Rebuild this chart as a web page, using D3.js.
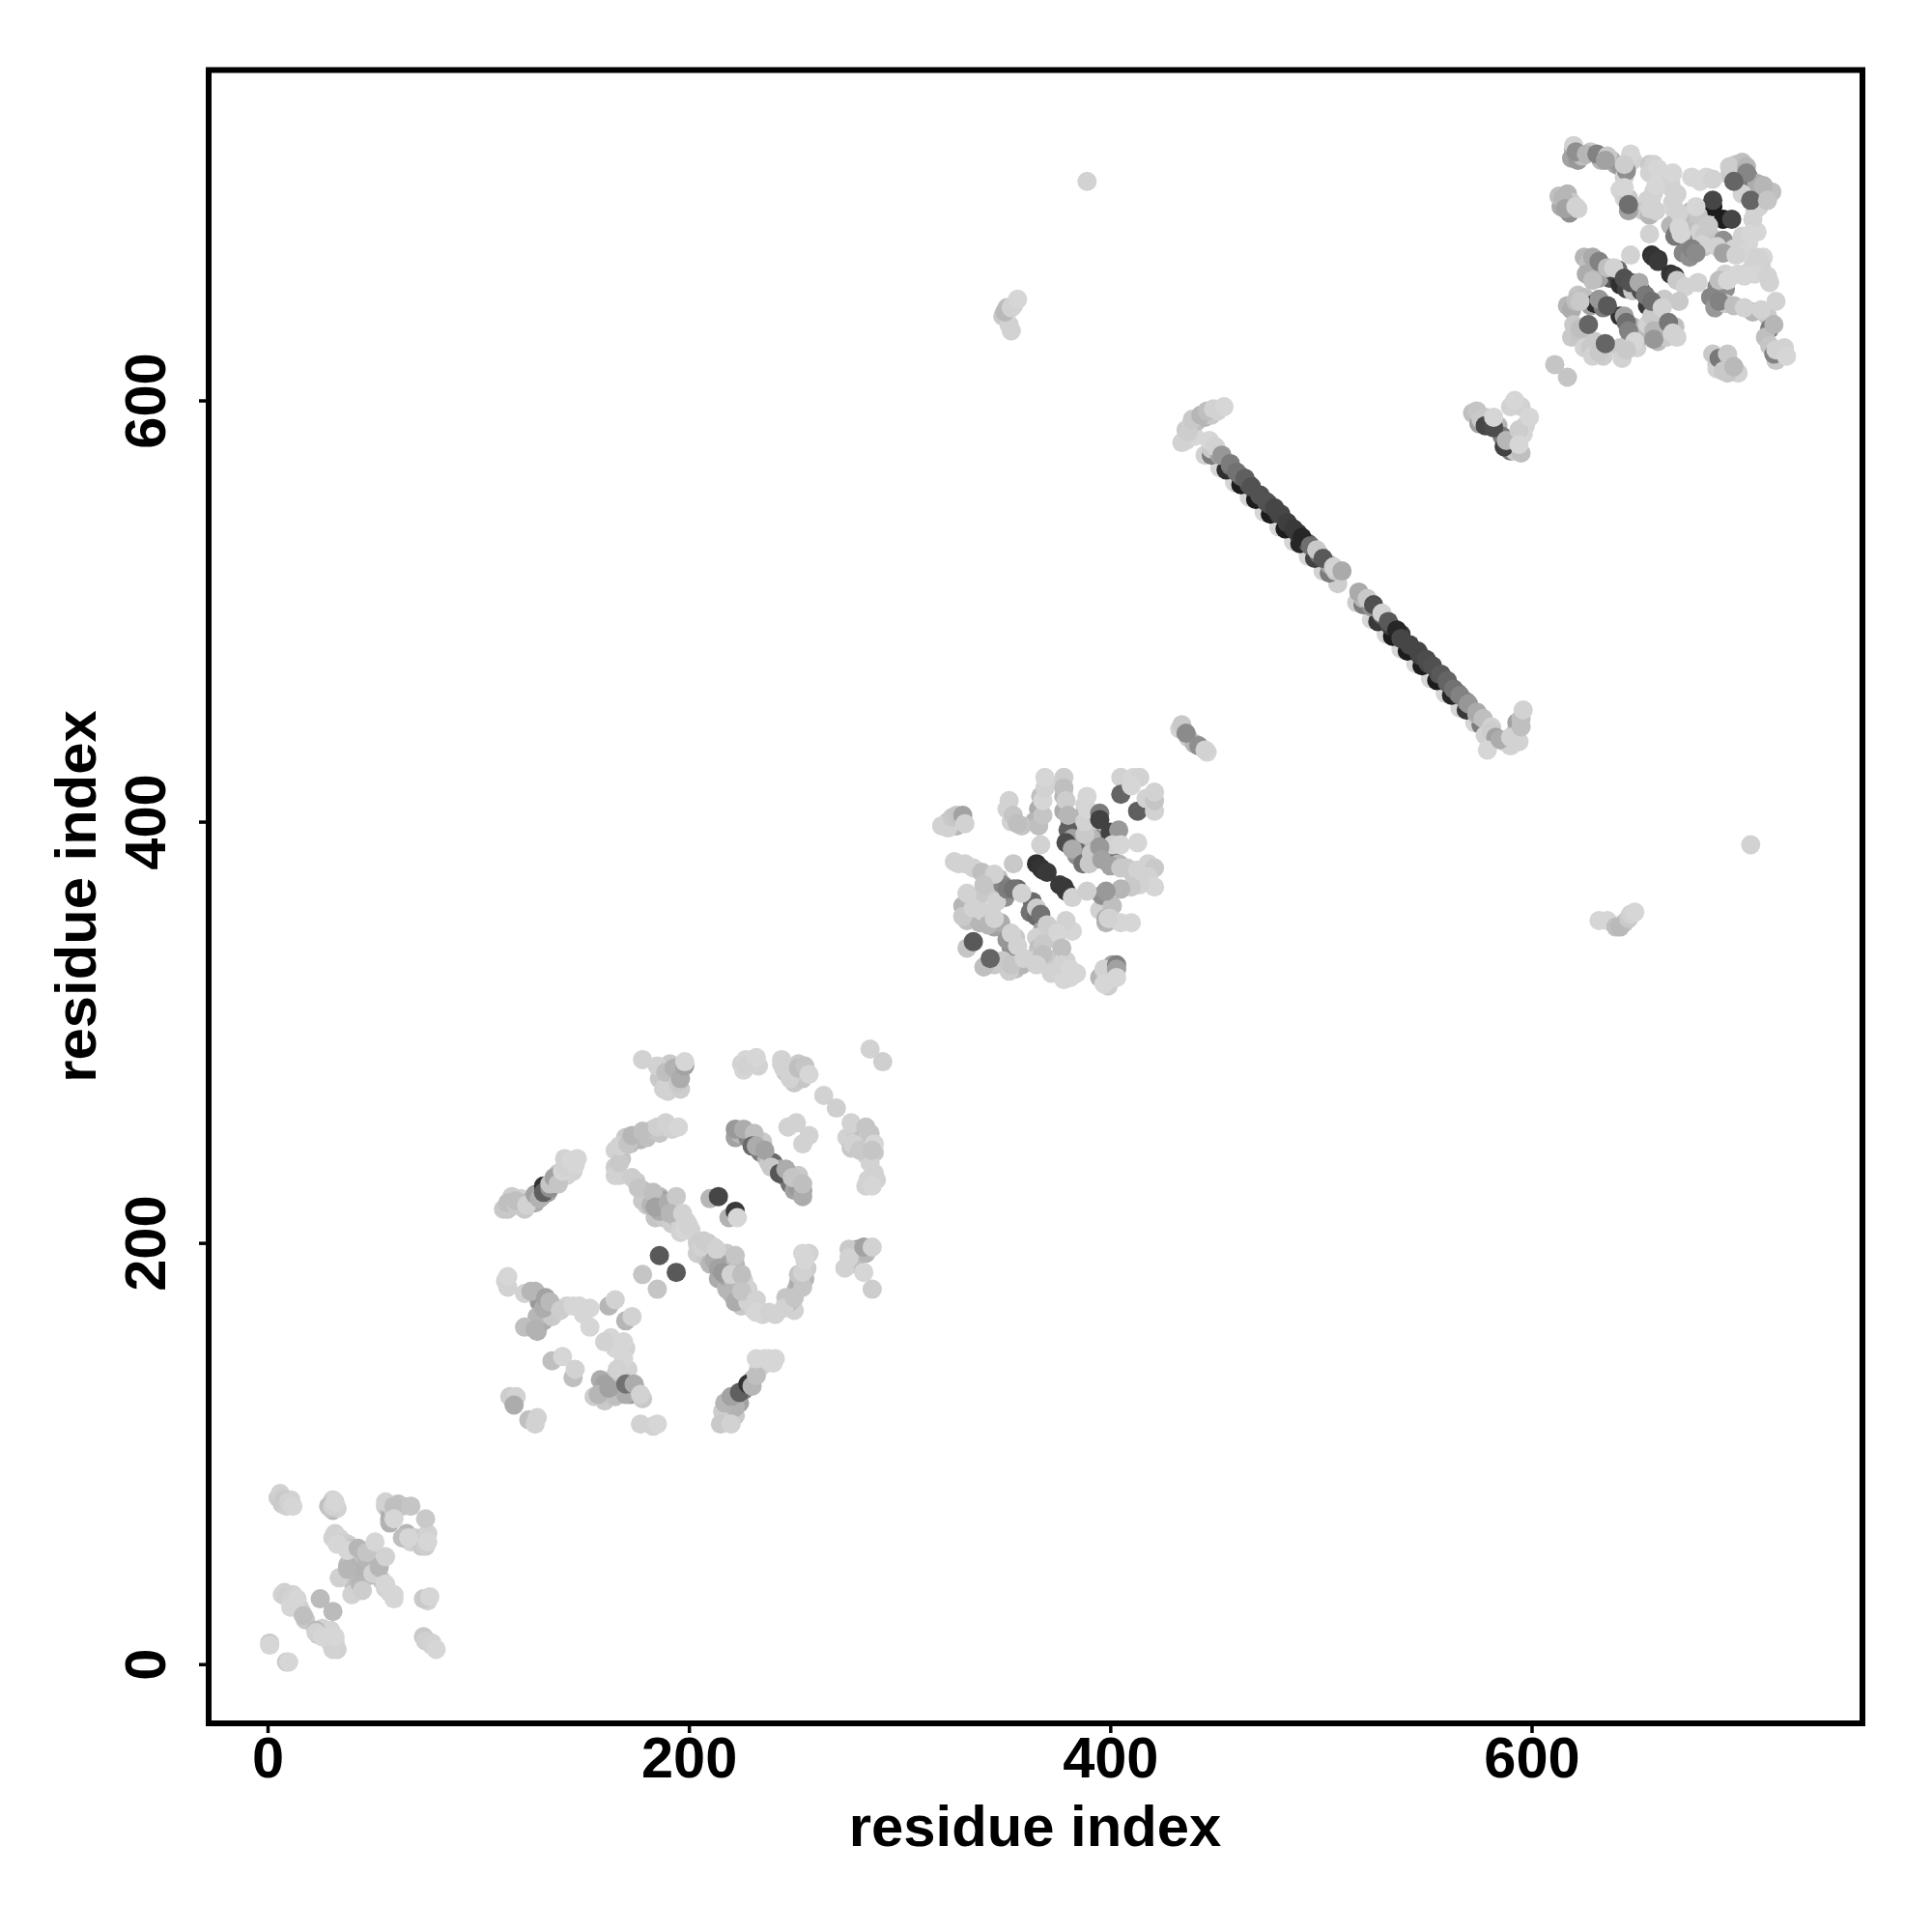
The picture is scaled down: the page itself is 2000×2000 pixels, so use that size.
<!DOCTYPE html>
<html><head><meta charset="utf-8"><script src="https://d3js.org/d3.v7.min.js"></script>
<style>html,body{margin:0;background:#fff}svg{display:block}text{font-family:"Liberation Sans",Arial,sans-serif;font-weight:700;fill:#000}</style></head>
<body><svg id="c" width="2000" height="2000"></svg>
<script>
// each row: residue i, residue j, contact score
const domainAFill=[[5,79,.08],[7,76,.1],[9,75,.06],[11,78,.05],[31,78,.05],[29,75,.15],[31,73,.2],[33,74,.05],
[32,62,.05],[34,60,.04],[36,58,.05],[38,57,.08],[40,55,.12],[42,52,.2],[44,50,.18],[46,48,.15],[48,46,.2],[50,44,.18],[52,42,.2],[54,40,.1],[56,36,.05],[58,34,.04],[60,33,.03],
[36,42,.1],[38,47,.18],[40,50,.12],[43,48,.22],[45,52,.15],[47,50,.2],[50,55,.05],[48,42,.2],[43,40,.22],[41,37,.15],
[56,75,.08],[58,72,.2],[58,69,.25],[60,72,.1],[62,76,.15],[64,75,.12],[66,62,.2],[68,58,.05],[70,60,.05],[74,60,.12],[76,62,.05],[73,56,.1],
[8,34,.06],[10,33,.05],[12,33,.05],[13,29,.05],[15,27,.08],[16,25,.06],[18,21,.1],[24,14,.15],[26,17,.05],[28,15,.05],[30,16,.04],[32,11,.05],[30,10,.05],[33,7,.06],[31,7,.05],[76,30,.05],[76,11,.08],[78,10,.05]];
const domainA=[[6,81,.05],[7,79,.07],[8,78,.1],[10,77,.05],[12,75,.03],[30,74,.12],[31,75,.05],[32,77,.03],
[58,67,.22],[56,77,.05],[60,75,.15],[60,69,.03],[64,60,.15],[68,75,.12],[75,69,.1],[67,60,.03],[75,56,.08],[76,58,.03],
[31,60,.05],[33,57,.03],[34,41,.06],[38,45,.2],[38,54,.03],[40,33,.05],[44,38,.2],[45,35,.08],[43,55,.2],[47,53,.12],[51,58,.03],[50,43,.05],[53,46,.2],[56,51,.05],[56,38,.03],[60,31,.03],
[7,33,.05],[9,32,.07],[11,31,.05],[14,31,.03],[11,27,.03],[17,23,.15],[23,16,.18],[23,15,.05],[26,13,.03],[32,9,.05],[32,13,.03],[25,31,.17],[31,25,.17],
[1,10,.1],[1,9,.03],[9,1,.1],[10,1,.03],[74,31,.1],[77,32,.03],[74,13,.1],[75,11,.06],[78,9,.05],[80,7,.03]];
const domainBFill=[[112,216,.1],[114,216,.12],[116,222,.08],[120,221,.05],[122,216,.1],[125,220,.2],[127,219,.25],[130,222,.4],[133,224,.3],[136,228,.45],[138,233,.12],[142,232,.05],[145,234,.05],[147,240,.03],[141,240,.05],
[170,250,.1],[172,247,.2],[175,250,.25],[177,249,.2],[180,250,.15],[183,254,.05],[186,252,.12],[190,255,.05],[192,254,.05],[168,240,.12],[165,244,.05],[165,236,.08],[165,232,.05],
[180,218,.1],[184,212,.12],[188,212,.1],[192,209,.08],[196,205,.05],[204,195,.08],[208,193,.1],[210,190,.2],[214,183,.25],[218,178,.2],[220,176,.2],[225,170,.1],[226,182,.05],[222,186,.15],
[175,229,.1],[178,225,.2],[180,222,.12],[178,220,.1],[182,218,.2],[186,222,.2],[188,220,.3],[186,215,.25],[189,216,.3],[192,218,.2],[194,212,.15],[196,210,.05],[199,210,.05],[201,206,.05],[204,200,.08],[206,198,.05],[209,200,.1],[212,198,.05],[212,192,.25],[215,195,.2],[218,195,.1],[219,190,.3],[222,190,.2],[218,184,.3],[221,182,.2],[224,180,.2],[228,178,.05],[222,172,.25],[228,172,.05],[231,168,.05],[235,166,.05],[241,166,.05],[248,170,.08],[250,168,.05],
[251,178,.2],[252,181,.25],[255,183,.2],[256,188,.08],[257,195,.05],[252,185,.12],[248,172,.15],[246,174,.12],
[280,197,.3],[279,190,.15],[276,197,.1],[284,195,.2],
[222,250,.3],[224,252,.2],[228,250,.45],[232,249,.25],[234,243,.5],[237,240,.2],[235,248,.1],[238,238,.1],[240,238,.6],[243,235,.3],[245,232,.4],[248,228,.55],[250,225,.3],[252,226,.35],[254,225,.3],[252,232,.1],
[275,250,.05],[277,245,.1],[279,252,.08],[282,249,.15],[285,250,.1],[286,252,.12],[284,242,.05],[288,243,.1],[286,238,.05],[285,230,.05],[289,230,.05],
[186,278,.1],[191,285,.1],[194,282,.2],[190,272,.05],[196,273,.08],[244,285,.05],[246,281,.12],[250,276,.1],[252,280,.2],[254,278,.12],[252,285,.1],[225,285,.05],[230,285,.05],[226,282,.03],[233,284,.05],[230,287,.03],
[122,176,.05],[127,177,.2],[129,172,.35],[125,160,.2],[128,158,.22],[131,163,.25],[128,165,.2],[122,160,.15],[135,165,.1],[142,170,.05],[148,170,.03],[150,166,.03],
[163,155,.03],[165,150,.03],[170,150,.05],[171,140,.05],[165,137,.08],[168,135,.1],[160,125,.1],[165,127,.15],[158,135,.25],[160,133,.3],[172,128,.35],[175,130,.25],[178,126,.1],[170,128,.25],
[218,118,.08],[222,118,.1],[216,120,.08],[224,124,.3],[226,130,.45],[230,135,.1],[233,140,.05],[235,142,.05],[236,145,.03],[240,143,.03],[241,145,.03],[222,122,.22]];
const domainB=[[114,217,.1],[114,219,.15],[118,218,.1],[118,220,.15],[123,218,.05],[127,223,.3],[129,221,.22],[131,227,.88],[131,224,.65],[134,226,.4],[134,228,.12],[136,231,.3],[138,228,.12],[140,234,.03],[141,236,.05],[144,239,.03],[146,237,.03],
[178,287,.05],[185,284,.05],[188,273,.05],[189,281,.15],[193,283,.22],[195,276,.1],[196,278,.25],[198,284,.3],[198,286,.03],
[227,287,.03],[227,284,.05],[232,288,.03],[244,287,.05],[245,283,.05],[248,278,.05],[252,283,.15],[255,284,.12],[257,280,.03],[264,270,.05],[270,264,.07],[286,292,.05],[292,286,.07],
[277,257,.05],[278,247,.05],[281,244,.1],[284,255,.12],[288,247,.03],[287,244,.12],[288,233,.05],[284,227,.05],[287,227,.03],
[167,232,.05],[167,238,.1],[167,246,.05],[171,247,.12],[173,251,.2],[178,253,.15],[185,255,.07],[189,257,.05],[195,255,.03],[173,231,.08],
[176,226,.12],[183,224,.15],[184,217,.3],[190,219,.25],[194,222,.1],[191,214,.2],[197,214,.05],[198,206,.03],[200,208,.05],[207,201,.08],[213,197,.05],[214,188,.3],[216,186,.35],[220,185,.05],[222,194,.12],[225,185,.15],[225,177,.12],
[232,173,.05],[232,167,.03],[238,167,.05],[245,169,.05],[250,174,.12],[254,179,.12],[254,186,.05],[255,192,.03],[254,195,.03],
[210,221,.2],[214,222,.78],[219,212,.22],[222,215,.85],[223,212,.03],[178,185,.12],[185,178,.12],[186,194,.68],[194,186,.68],
[276,193,.05],[274,188,.05],[283,198,.3],[287,198,.05],[283,186,.03],[287,178,.08],
[113,182,.05],[114,179,.05],[114,184,.03],[127,159,.22],[125,177,.2],[131,169,.25],[132,174,.3],[134,172,.18],[139,168,.08],[145,170,.03],[153,169,.03],[153,160,.03],
[162,170,.2],[165,173,.05],[170,163,.2],[173,165,.05],[135,144,.15],[140,146,.03],[145,136,.15],[146,140,.05],
[160,153,.05],[169,153,.03],[169,145,.03],[166,140,.05],[155,127,.08],[157,128,.2],[162,131,.3],[170,133,.55],[174,133,.25],[177,128,.05],
[115,127,.08],[118,127,.05],[117,123,.25],[124,116,.15],[128,117,.05],[127,114,.05],[177,114,.05],[183,113,.05],[185,114,.03],
[215,114,.1],[220,114,.05],[217,124,.2],[220,127,.3],[224,129,.65],[228,133,.88],[230,132,.2],[232,137,.15],[238,145,.03],[232,145,.03],
[222,254,.35],[226,254,.25],[231,252,.15],[230,246,.6],[232,246,.25],[236,244,.3],[239,236,.1],[243,233,.7],[246,235,.25],[249,231,.12],[254,222,.25],[254,228,.15],
[247,255,.05],[251,257,.05],[254,247,.05],[257,251,.05]];
const domainCFill=[[367,412,.15],[366,406,.25],[364,400,.2],[370,418,.05],[378,412,.2],[378,405,.25],[381,400,.6],[384,396,.5],[386,392,.55],[388,388,.3],[390,385,.15],[392,383,.1],[388,408,.05],[386,402,.2],[384,398,.3],[380,396,.65],[383,388,.7],[385,390,.6],[393,392,.4],[398,390,.5],[400,385,.55],[404,380,.2],[408,378,.1],[418,380,.05],[416,372,.1],[411,375,.1],
[323,400,.1],[320,398,.05],[327,398,.2],[351,406,.05],[353,400,.05],[358,398,.12],
[328,380,.05],[335,378,.05],[342,372,.2],[347,373,.15],[338,365,.1],[343,367,.1],[349,370,.45],[356,368,.6],[350,364,.4],[346,362,.05],
[330,360,.2],[332,353,.15],[336,356,.25],[338,352,.2],[345,350,.3],[348,352,.25],
[363,362,.6],[362,357,.55],[365,355,.6],[368,349,.3],[372,345,.1],[378,350,.05],[382,348,.03],
[355,345,.1],[353,340,.4],[349,334,.1],[355,330,.15],[358,332,.2],[352,329,.08],[345,332,.1],
[365,345,.05],[366,340,.15],[363,335,.1],[370,335,.1],[372,328,.05],[376,328,.05],[379,334,.05],[378,325,.03],[384,328,.03],
[398,352,.2],[395,358,.05],[396,365,.4],[401,360,.15],[395,326,.2],[399,328,.45],[401,332,.3],[399,322,.08],
[389,397,.1],[391,392,.2],[382,392,.3],[384,384,.4]];
const domainC=[[323,397,.05],[325,402,.1],[327,403,.12],[330,403,.3],[331,399,.05],
[352,410,.05],[354,403,.12],[356,399,.15],[366,398,.15],[368,403,.12],[368,410,.03],[369,416,.05],[369,421,.03],
[378,421,.08],[378,416,.15],[379,410,.08],[380,403,.2],[388,394,.1],[388,400,.05],[389,406,.03],[389,412,.03],
[405,421,.05],[405,413,.62],[411,421,.03],[414,421,.05],[410,417,.03],[413,405,.65],[417,411,.05],[421,405,.05],[421,410,.12],[421,414,.05],
[395,404,.5],[395,401,.8],[400,395,.8],[404,396,.35],[401,389,.05],[405,389,.03],[413,390,.03],
[379,390,.75],[382,387,.25],[387,380,.55],[390,380,.1],[391,385,.1],[395,388,.35],[396,382,.3],[400,379,.3],[405,378,.1],[413,377,.05],[421,378,.1],[418,374,.05],[421,369,.03],[414,370,.05],[410,369,.1],[405,368,.2],[398,367,.35],[398,354,.25],[400,354,.05],[405,352,.03],[410,352,.03],
[367,389,.05],[365,380,.9],[367,378,.88],[368,377,.88],[370,376,.85],[376,370,.85],[378,369,.85],[379,367,.85],[382,364,.05],[389,367,.07],
[354,380,.1],[326,381,.05],[331,380,.05],[339,376,.15],[345,375,.05],[332,366,.05],[340,370,.12],[351,368,.5],[354,368,.55],[358,366,.05],
[330,355,.1],[335,359,.05],[340,357,.05],[342,351,.2],[345,354,.05],[365,359,.08],[367,356,.55],[370,351,.08],[379,353,.05],[375,347,.03],
[351,344,.36],[353,347,.05],[356,341,.05],[353,332,.12],[359,335,.05],[332,340,.12],[335,343,.68],[340,331,.15],[343,335,.62],
[368,342,.1],[368,337,.15],[365,332,.05],[377,340,.15],[377,332,.05],[381,330,.03],[381,326,.03],
[399,354,.05],[397,330,.05],[397,323,.03],[403,332,.47],[403,330,.3],[403,326,.03]];
const strandUnder=[[445,574,.05],[452,568,.03],[459,561,.03],[466,554,.03],[473,547,.03],[480,540,.03],[487,533,.03],[494,526,.03],[501,519,.05],[508,513,.08],
[517,504,.08],[524,496,.03],[531,489,.03],[538,482,.03],[545,475,.03],[552,468,.03],[559,461,.03],[566,454,.03],[573,447,.03],[580,441,.05]];
const strandEdge=[[448,574,.5],[455,567,.9],[462,560,1],[469,553,1],[476,546,1],[483,539,1],[490,532,.95],[497,525,.8],[504,518,.5],
[520,503,.5],[527,495,.85],[534,488,1],[541,481,1],[548,474,1],[555,467,1],[562,460,.95],[569,453,.85],[576,446,.5]];
const strandMid=[[448,577,.1],[452,574,.3],[457,569,.55],[462,564,.65],[466,560,.7],[471,555,.72],[475,551,.75],[480,546,.8],[484,542,.82],[489,537,.85],[494,532,.7],[499,527,.55],[504,522,.3],[507,519,.1],
[520,506,.2],[524,502,.4],[529,498,.7],[533,493,.8],[538,489,.85],[542,484,.82],[547,479,.8],[551,475,.78],[556,470,.72],[560,466,.65],[565,461,.55],[569,457,.4],[574,451,.2]];
const strandTop=[[434,580,.05],[447,581,.03],[450,578,.05],[453,574,.36],[457,570,.5],[460,566,.55],[464,563,.65],[467,559,.72],[471,555,.72],[474,552,.72],[478,549,.78],[481,546,.78],[484,542,.82],[487,539,.85],[491,535,.95],[495,531,.57],[498,529,.1],[501,525,.68],[506,521,.05],[510,519,.26],
[518,509,.26],[522,506,.1],[525,503,.73],[529,499,.05],[532,495,.68],[536,491,.95],[538,487,.78],[542,484,.78],[546,481,.78],[550,477,.75],[553,474,.73],[557,470,.68],[560,467,.62],[563,463,.55],[566,460,.47],[570,456,.36],[574,452,.26],[577,449,.15],[581,445,.05]];
const domainDcorners=[[436,581,.05],[436,586,.1],[438,588,.05],[440,583,.03],[441,590,.15],[445,592,.2],[448,593,.1],[451,595,.05],[437,585,.08],[439,591,.1],[443,593,.2],[446,595,.15],[449,596,.05],[454,597,.03],
[572,594,.15],[575,589,.3],[578,592,.1],[580,588,.7],[584,588,.2],[586,583,.5],[589,580,.6],[590,576,.5],[592,576,.1],[593,582,.05],[590,597,.05],[595,597,.05],[597,588,.05],[596,584,.03],
[574,595,.12],[576,591,.1],[578,588,.78],[582,587,.75],[582,592,.03],[587,578,.8],[588,581,.2],[592,600,.03],[594,586,.08],[595,575,.15],[594,579,.03],[599,592,.03],
[433,444,.05],[437,440,.1],[440,437,.2],[446,433,.03],[434,446,.1],[436,442,.42],[442,436,.4],[445,434,.05],
[578,441,.05],[581,443,.08],[583,440,.3],[587,438,.05],[590,436,.05],[592,442,.1],[594,438,.05],[593,447,.3],
[579,434,.03],[585,439,.25],[590,440,.05],[595,445,.15],[595,449,.15],[596,453,.05]];
const domainDFill=[[620,719,.4],[619,715,.3],[622,714,.35],[624,716,.15],[628,718,.1],[633,714,.2],[638,714,.15],[640,712,.25],[642,711,.35],[648,714,.05],[644,706,.05],[642,700,.03],[644,696,.05],[646,696,.1],
[656,712,.1],[656,708,.05],[660,708,.05],[661,706,.03],[658,699,.05],[655,695,.05],[653,690,.1],[656,688,.2],[659,690,.05],
[665,704,.05],[667,700,.05],[667,694,.05],[668,690,.05],[669,685,.05],[666,683,.2],[669,680,.45],[672,677,.4],[675,685,.1],[677,683,.15],[680,688,.15],[676,690,.2],[680,680,.05],[682,678,.1],
[614,692,.25],[613,697,.15],[617,698,.2],[619,694,.1],[618,689,.4],[622,691,.05],
[676,706,.03],[683,706,.03],[694,707,.1],[697,712,.1],[700,713,.15],[703,706,.5],[707,703,.25],[711,698,.2],[708,692,.05],[714,699,.15],[706,690,.05],[700,698,.05],
[703,675,.03],[700,678,.05],[707,680,.03],
[672,670,.45],[675,668,.4],[682,673,.1],[686,677,.12],[691,676,.4],[696,672,.05],[702,670,.03],[710,668,.03],
[692,660,.05],[698,660,.03],[704,662,.05],[709,664,.05],[713,656,.05],[688,654,.45],[692,653,.4],
[625,668,.2],[627,665,.15],[634,662,.3],[637,658,.7],[632,658,.3],[626,660,.25],[640,660,.8],[642,655,.9],[645,653,.8],[648,652,.1],[641,662,.6],
[617,645,.2],[619,643,.25],[622,650,.12],[625,649,.15],[628,645,.3],[630,646,.9],[634,644,.5],[620,636,.1],[619,630,.1],[623,630,.12],[625,625,.05],[628,625,.1],[630,628,.1],[629,621,.05],[634,621,.08],
[642,640,.9],[644,640,.3],[648,635,.2],[647,630,.3],[642,625,.1],[643,620,.05],[650,625,.05],[651,630,.2],
[652,652,.75],[655,645,.85],[659,642,.3],[663,648,.1],[663,635,.3],[660,628,.15],[664,630,.1],[668,635,.15],[669,630,.05],[655,636,.05],[657,640,.1],
[685,649,.45],[687,644,.35],[692,646,.1],[705,642,.2],[712,640,.1],[713,634,.5],[711,630,.15],[713,626,.12],[718,622,.1],[720,625,.05],[716,619,.1],
[686,622,.1],[688,617,.12],[688,615,.05],[694,618,.1],[698,613,.05],[693,613,.12]];
const domainD=[[620,721,.05],[621,718,.4],[626,717,.2],[631,717,.47],[636,716,.1],[635,714,.3],[647,717,.03],[645,709,.4],[644,712,.08],
[658,712,.05],[660,710,.03],[666,704,.05],[667,708,.03],[644,701,.03],[646,690,.3],[646,693,.57],[656,691,.05],[657,696,.05],[659,702,.03],
[615,696,.2],[616,691,.3],[621,692,.05],[680,704,.03],[686,705,.05],[694,711,.08],[702,711,.2],[702,708,.45],[696,704,.62],[710,702,.2],[704,695,.62],[712,695,.12],
[686,692,1],[686,695,.78],[691,686,1],[695,686,.78],[705,686,.05],[704,679,.03],
[669,698,.05],[670,689,.05],[668,678,.52],[670,682,.03],[671,679,.03],[679,688,.12],[678,692,.03],[684,683,.1],[681,674,.05],[676,672,.47],[678,670,.42],[688,673,.05],[691,670,.3],[697,669,.05],[707,668,.05],[706,660,.03],[712,659,.05],[701,659,.03],[689,657,.15],[693,657,.03],
[656,679,.05],[647,669,.05],[657,669,.9],[658,668,.88],[660,667,.88],[660,666,.85],[666,660,.88],[668,659,.85],[669,657,.1],[673,654,.05],[679,656,.05],[670,647,.1],
[629,668,.26],[632,666,.47],[636,663,.15],[639,663,.05],[629,657,.15],[644,658,.73],[647,656,.72],[651,656,.26],
[621,647,.15],[623,647,.1],[632,648,.36],[636,645,.68],[623,634,.15],[627,636,.62],[632,623,.1],[635,627,.62],
[645,637,.57],[646,633,.47],[649,628,.03],[645,624,.1],[654,650,.52],[657,647,.57],[662,644,.05],[658,633,.2],[658,629,.36],[665,637,.52],[667,632,.05],
[689,647,.47],[696,645,.15],[701,644,.05],[709,643,.05],[716,647,.05],[715,636,.2],[715,622,.47],[716,624,.05],[721,621,.03],
[611,617,.12],[617,611,.12],[689,620,.52],[693,622,.1],[691,614,.1],[696,616,.18]];
const outliers=[[389,704,.05],[704,389,.05],[349,640,.1],[352,636,.05],[351,644,.15],[354,645,.05],[350,642,.18],[353,644,.05],[356,648,.03],[353,633,.05],
[632,353,.03],[636,353,.03],[640,350,.15],[644,352,.1],[642,350,.18],[646,354,.1],[647,356,.05],[649,357,.03]];
const groups=[domainAFill,domainA,domainBFill,domainB,domainCFill,domainC,strandUnder,strandEdge,strandMid,strandTop,domainDcorners,domainDFill,domainD,outliers];
const tickValues=[0,200,400,600];
const axisLabel="residue index";

const svg=d3.select("#c");
const x=d3.scaleLinear().domain([0,600]).range([277,1585.5]);
const y=d3.scaleLinear().domain([0,600]).range([1722.7,414.5]);
const shade=d3.scaleLinear().domain([0,1]).range(["#dcdcdc","#1c1c1c"]);
const R=10,L=216,Rt=1928,T=72.5,B=1784;

svg.append("g").selectAll("circle").data(groups.flat()).join("circle")
 .attr("cx",d=>x(d[0])).attr("cy",d=>y(d[1])).attr("r",R).attr("fill",d=>shade(d[2]));

svg.append("rect").attr("x",L).attr("y",T).attr("width",Rt-L).attr("height",B-T)
 .attr("fill","none").attr("stroke","#000").attr("stroke-width",6);

const ax=svg.append("g").attr("transform",`translate(0,${B})`)
 .call(d3.axisBottom(x).tickValues(tickValues).tickSize(10).tickPadding(0).tickFormat(d3.format("d")));
const ay=svg.append("g").attr("transform",`translate(${L},0)`)
 .call(d3.axisLeft(y).tickValues(tickValues).tickSize(10).tickPadding(0).tickFormat(d3.format("d")));
[ax,ay].forEach(g=>{g.select(".domain").remove();g.selectAll("line").attr("stroke","#000").attr("stroke-width",3.5);
 g.selectAll("text").attr("font-size",59.5).style("font-family",'"Liberation Sans"').style("font-weight",700).attr("fill","#000");});
ax.selectAll("text").attr("dy",null).attr("y",56).attr("text-anchor","middle");
ay.selectAll("text").attr("dy",null).attr("x",null).attr("text-anchor","middle")
 .attr("transform","translate(-45,0) rotate(-90)");

svg.append("text").attr("x",1071.5).attr("y",1911).attr("text-anchor","middle").attr("font-size",59.8).text(axisLabel);
svg.append("text").attr("transform","translate(99,928) rotate(-90)").attr("text-anchor","middle").attr("font-size",59.8).text(axisLabel);
</script></body></html>
